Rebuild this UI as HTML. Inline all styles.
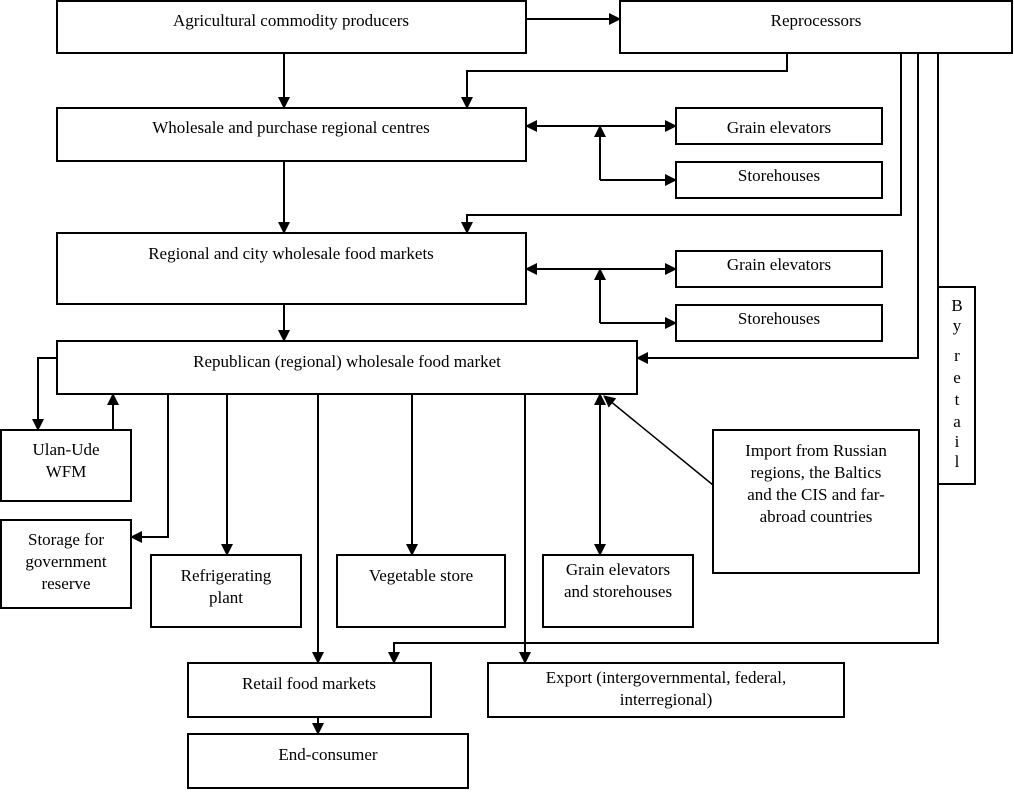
<!DOCTYPE html>
<html><head><meta charset="utf-8"><style>
body{margin:0;background:#fff}
svg text{font-family:"Liberation Serif",serif;font-size:17px;fill:#000}
</style></head><body>
<svg width="1014" height="789" viewBox="0 0 1014 789" xmlns="http://www.w3.org/2000/svg">
<defs><marker id="a" markerWidth="12" markerHeight="12" refX="11" refY="6" orient="auto" markerUnits="userSpaceOnUse"><path d="M0,0 L12,6 L0,12 z" fill="#000"/></marker></defs>
<g fill="none" stroke="#000" stroke-width="2">
<rect x="57" y="1" width="469" height="52"/>
<rect x="620" y="1" width="392" height="52"/>
<rect x="57" y="108" width="469" height="53"/>
<rect x="676" y="108" width="206" height="36"/>
<rect x="676" y="162" width="206" height="36"/>
<rect x="57" y="233" width="469" height="71"/>
<rect x="676" y="251" width="206" height="36"/>
<rect x="676" y="305" width="206" height="36"/>
<rect x="57" y="341" width="580" height="53"/>
<rect x="1" y="430" width="130" height="71"/>
<rect x="1" y="520" width="130" height="88"/>
<rect x="151" y="555" width="150" height="72"/>
<rect x="337" y="555" width="168" height="72"/>
<rect x="543" y="555" width="150" height="72"/>
<rect x="713" y="430" width="206" height="143"/>
<rect x="938" y="287" width="37" height="197"/>
<rect x="188" y="663" width="243" height="54"/>
<rect x="488" y="663" width="356" height="54"/>
<rect x="188" y="734" width="280" height="54"/>
</g>
<g fill="none" stroke="#000" stroke-width="2" marker-end="url(#a)">
<path d="M526,19 H620"/>
<path d="M284,53 V108"/>
<path d="M787,53 V71 H467 V108"/>
<path d="M600,126 H676"/><path d="M600,126 H526"/>
<path d="M600,180 V126"/><path d="M600,180 H676"/>
<path d="M284,161 V233"/>
<path d="M901,53 V215 H467 V233"/>
<path d="M600,269 H676"/><path d="M600,269 H526"/>
<path d="M600,323 V269"/><path d="M600,323 H676"/>
<path d="M284,304 V341"/>
<path d="M918,53 V358 H637"/>
<path d="M938,484 V643 H394 V663"/>
<path d="M57,358 H38 V430"/>
<path d="M113,430 V394"/>
<path d="M168,394 V537 H131"/>
<path d="M227,394 V555"/>
<path d="M318,394 V663"/>
<path d="M412,394 V555"/>
<path d="M525,394 V663"/>
<path d="M600,470 V555"/><path d="M600,470 V394"/>
<path d="M318,717 V734"/>
</g>
<line x1="938" y1="53" x2="938" y2="287" stroke="#000" stroke-width="2"/>
<line x1="713" y1="485" x2="604" y2="396" stroke="#000" stroke-width="1.5" marker-end="url(#a)"/>
<g text-anchor="middle">
<text x="291" y="26">Agricultural commodity producers</text>
<text x="816" y="26">Reprocessors</text>
<text x="291" y="133">Wholesale and purchase regional centres</text>
<text x="779" y="133">Grain elevators</text>
<text x="779" y="181">Storehouses</text>
<text x="291" y="259">Regional and city wholesale food markets</text>
<text x="779" y="270">Grain elevators</text>
<text x="779" y="324">Storehouses</text>
<text x="347" y="367">Republican (regional) wholesale food market</text>
<text x="66" y="455">Ulan-Ude</text><text x="66" y="477">WFM</text>
<text x="66" y="545">Storage for</text><text x="66" y="567">government</text><text x="66" y="589">reserve</text>
<text x="226" y="581">Refrigerating</text><text x="226" y="603">plant</text>
<text x="421" y="581">Vegetable store</text>
<text x="618" y="575">Grain elevators</text><text x="618" y="597">and storehouses</text>
<text x="816" y="456">Import from Russian</text><text x="816" y="478">regions, the Baltics</text><text x="816" y="500">and the CIS and far-</text><text x="816" y="522">abroad countries</text>
<text x="957" y="311">B</text><text x="957" y="331">y</text><text x="957" y="361">r</text><text x="957" y="383">e</text><text x="957" y="405">t</text><text x="957" y="427">a</text><text x="957" y="447">i</text><text x="957" y="467">l</text>
<text x="309" y="689">Retail food markets</text>
<text x="666" y="683">Export (intergovernmental, federal,</text><text x="666" y="705">interregional)</text>
<text x="328" y="760">End-consumer</text>
</g>
</svg>
</body></html>
